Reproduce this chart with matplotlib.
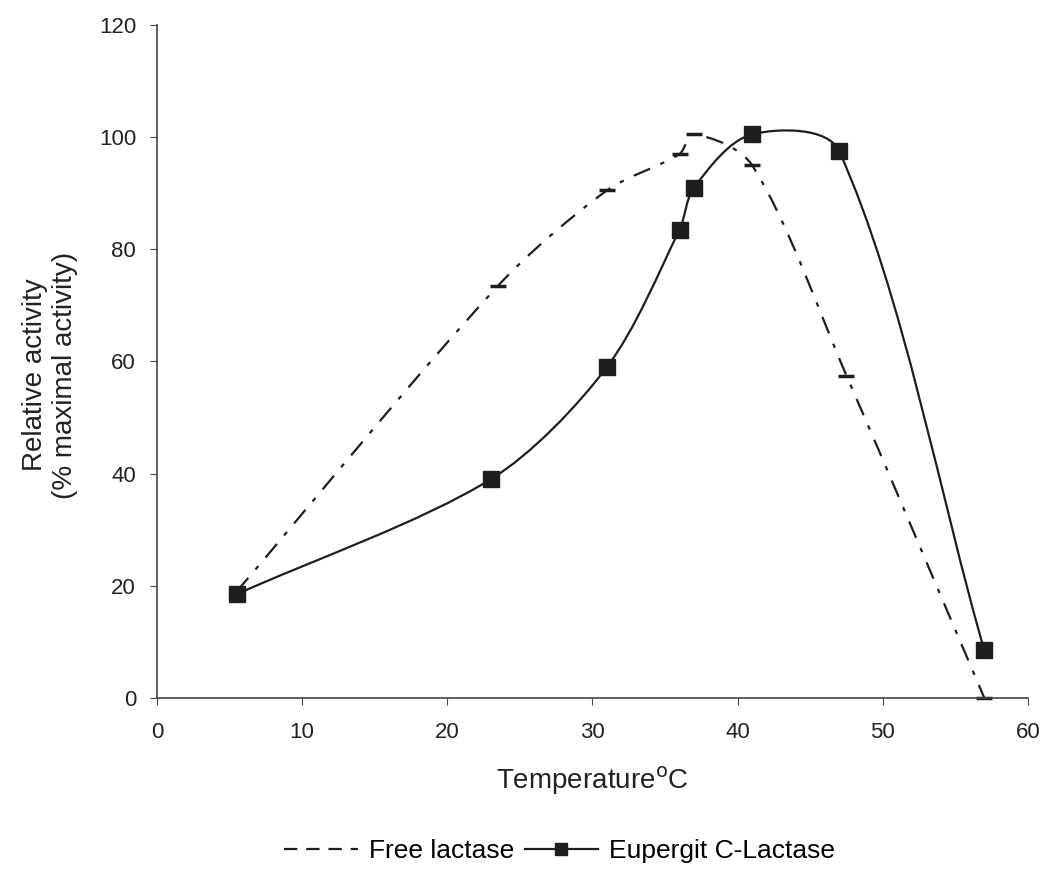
import matplotlib
matplotlib.use("Agg")
import matplotlib.pyplot as plt
from matplotlib.path import Path
from matplotlib.patches import PathPatch
from matplotlib.lines import Line2D
import numpy as np

plt.rcParams['font.family'] = ['Liberation Sans', 'DejaVu Sans']

# data
temp_free = [5.5, 23.5, 31, 36, 37, 41, 47.5, 57]
act_free = [19, 73.5, 90.5, 97, 100.5, 95, 57.5, 0]
temp_eup = [5.5, 23, 31, 36, 37, 41, 47, 57]
act_eup = [18.5, 39, 59, 83.5, 91, 100.5, 97.5, 8.5]


def smooth_path(x, y, sx=14.5, sy=5.6, k=0.3):
    # smoothed line like the spreadsheet one: bezier segments through the points,
    # tangents worked out in a roughly pixel-scaled space
    pts = np.column_stack([np.asarray(x, float) * sx, np.asarray(y, float) * sy])
    n = len(pts)
    verts = [tuple(pts[0])]
    codes = [Path.MOVETO]
    for i in range(n - 1):
        p0 = pts[max(i - 1, 0)]
        p1 = pts[i]
        p2 = pts[i + 1]
        p3 = pts[min(i + 2, n - 1)]
        seg = np.linalg.norm(p2 - p1)
        t1 = (p2 - p0) / np.linalg.norm(p2 - p0)
        t2 = (p3 - p1) / np.linalg.norm(p3 - p1)
        verts += [tuple(p1 + t1 * seg * k), tuple(p2 - t2 * seg * k), tuple(p2)]
        codes += [Path.CURVE4] * 3
    verts = np.array(verts) / [sx, sy]
    return Path(verts, codes)


fig = plt.figure(figsize=(10.46, 8.76), dpi=100)
ax = fig.add_axes([0.150, 0.2032, 0.8327, 0.7683])

ink = '#1e1e1e'
ax.add_patch(PathPatch(smooth_path(temp_free, act_free), fill=False,
                       edgecolor=ink, lw=1.6, linestyle=(0, (8, 5, 2, 5))))
ax.plot(temp_free, act_free, linestyle='none', marker='_', markersize=11,
        mew=2.5, color=ink, clip_on=False)

ax.add_patch(PathPatch(smooth_path(temp_eup, act_eup), fill=False,
                       edgecolor=ink, lw=1.6))
ax.plot(temp_eup, act_eup, linestyle='none', marker='s', markersize=11,
        color=ink, clip_on=False)

ax.set_xlim(0, 60)
ax.set_ylim(0, 120)
ax.set_xticks(range(0, 61, 10))
ax.set_yticks(range(0, 121, 20))
ax.spines['top'].set_visible(False)
ax.spines['right'].set_visible(False)
for s in ['left', 'bottom']:
    ax.spines[s].set_color('#444444')
    ax.spines[s].set_linewidth(1.2)
ax.tick_params(labelsize=16, length=5, color='#444444', labelcolor='#222222')
ax.tick_params(axis='x', pad=12)
ax.tick_params(axis='y', pad=10)

ax.set_xlabel('Temperature$^{\\rm o}$C', fontsize=20, labelpad=16,
              color='#222222')
ax.set_ylabel('Relative activity\n(% maximal activity)', fontsize=20,
              color='#222222')
ax.yaxis.set_label_coords(-0.091, 0.48)

handles = [Line2D([], [], color=ink, lw=1.6, linestyle=(0, (6, 4))),
           Line2D([], [], color=ink, lw=1.6, marker='s', markersize=9)]
fig.legend(handles, ['Free lactase', 'Eupergit C-Lactase'], loc='center',
           bbox_to_anchor=(0.535, 0.028), ncol=2, frameon=False, fontsize=19,
           handlelength=2.8, columnspacing=0.4, handletextpad=0.4)

fig.savefig('out.png', dpi=100)
